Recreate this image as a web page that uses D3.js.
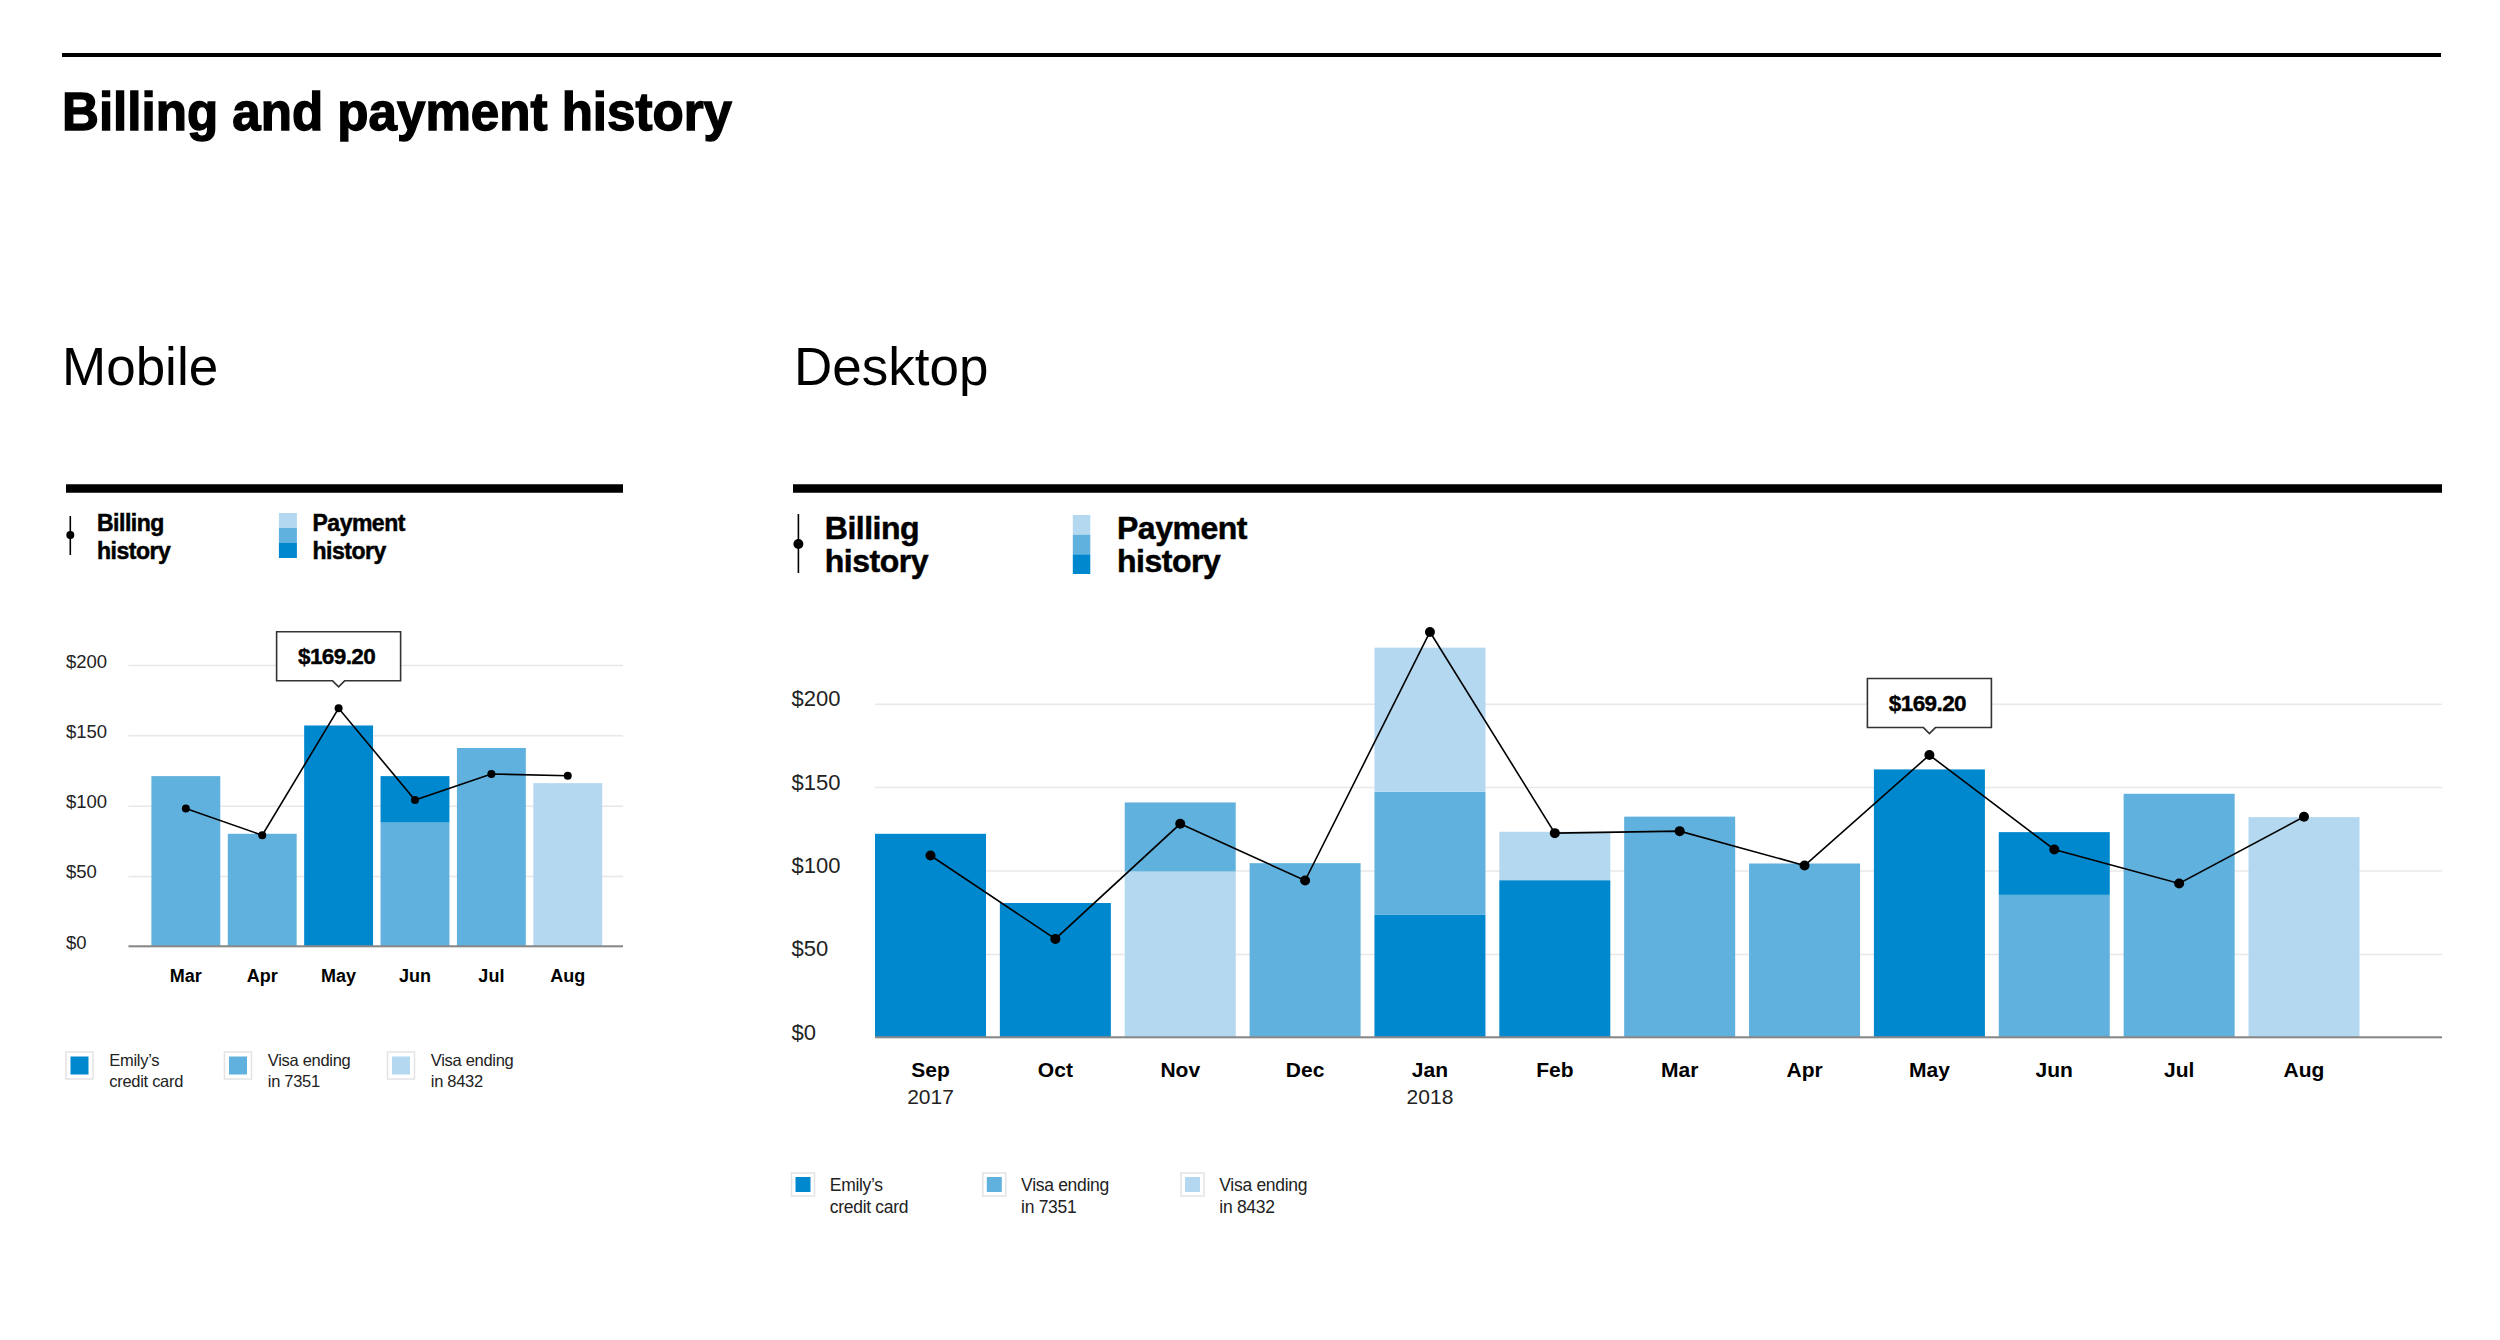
<!DOCTYPE html>
<html>
<head>
<meta charset="utf-8">
<script src="https://cdn.jsdelivr.net/npm/d3@7"></script>
<style>
  body { margin: 0; background: #fff; }
  svg { display: block; font-family: "Liberation Sans", Arial, Helvetica, sans-serif; }
</style>
</head>
<body>
<div id="chart"></div>
<script>
// ---- data ----
var cards = ["emily", "v7351", "v8432"];
var cardColors = ["#0088ce", "#61b1de", "#b4d8ef"];
var cardLabels = [["Emily\u2019s", "credit card"], ["Visa ending", "in 7351"], ["Visa ending", "in 8432"]];

var mobileMonths = ["Mar", "Apr", "May", "Jun", "Jul", "Aug"];
var mobileBilling = [98, 79, 169.2, 104, 122.5, 121.3];
// payments in the order they stack, bottom to top
var mobilePayments = [
    ["Mar", "v7351", 121], ["Apr", "v7351", 80], ["May", "emily", 157],
    ["Jun", "v7351", 88], ["Jun", "emily", 33], ["Jul", "v7351", 141], ["Aug", "v8432", 116]
];

var desktopMonths = ["Sep", "Oct", "Nov", "Dec", "Jan", "Feb", "Mar", "Apr", "May", "Jun", "Jul", "Aug"];
var desktopYears = ["2017", "", "", "", "2018", "", "", "", "", "", "", ""];
var desktopBilling = [109, 59, 128, 94, 243, 122.4, 123.6, 103, 169.2, 112.6, 92.2, 132.2];
var desktopPayments = [
    ["Sep", "emily", 122], ["Oct", "emily", 80.5],
    ["Nov", "v8432", 99.4], ["Nov", "v7351", 41.4],
    ["Dec", "v7351", 104.4],
    ["Jan", "emily", 73.4], ["Jan", "v7351", 73.8], ["Jan", "v8432", 86.4],
    ["Feb", "emily", 94.2], ["Feb", "v8432", 29],
    ["Mar", "v7351", 132.3], ["Apr", "v7351", 104.2], ["May", "emily", 160.6],
    ["Jun", "v7351", 85.4], ["Jun", "emily", 37.6], ["Jul", "v7351", 146], ["Aug", "v8432", 132]
];

var yTicks = [0, 50, 100, 150, 200];
var highlightMonth = "May";

// ---- layout ----
var W = 2500, H = 1340;

var mobileLayout = {
    barLeft: 151.4, barRight: 602.2, pad: 0.098,
    gridLeft: 128.5, gridRight: 623, y0: 946.3, y200: 665,
    tickX: 66, tickSize: 18.5,
    monthY: 981.7, monthSize: 18, yearY: 0, yearSize: 0,
    dotR: 4, lineW: 1.6,
    rule: { x1: 66, x2: 623, y: 488.5, w: 8.7 },
    legend: { iconX: 70.3, iconTop: 516, iconBot: 555, dotY: 535, dotR: 4, textX: 97, line1: 531, line2: 559.3, size: 23,
              swX: 278.9, swW: 18, swTop: 513, swBot: 558, ptX: 312.5 },
    keys: { x: [66, 224.5, 387.5], box: 27, y: 1052, inner: 18, textDx: 43.3, line1: 1066, line2: 1086.7, size: 16.5 },
    tip: { w: 124, h: 49, size: 22.5, gap: 21.5, ptr: 6 }
};

var desktopLayout = {
    barLeft: 875, barRight: 2359.5, pad: 0.111,
    gridLeft: 875, gridRight: 2442, y0: 1037.3, y200: 703.7,
    tickX: 791.5, tickSize: 22,
    monthY: 1076.7, monthSize: 21, yearY: 1104, yearSize: 21,
    dotR: 5, lineW: 1.6,
    rule: { x1: 793, x2: 2442, y: 488.5, w: 8.7 },
    legend: { iconX: 798.4, iconTop: 514, iconBot: 573, dotY: 544, dotR: 5, textX: 824.8, line1: 539, line2: 571.7, size: 32,
              swX: 1072.8, swW: 17.5, swTop: 515, swBot: 574, ptX: 1117 },
    keys: { x: [791.5, 982.8, 1181], box: 23, y: 1173, inner: 15, textDx: 38.3, line1: 1190.7, line2: 1212.7, size: 17.5 },
    tip: { w: 124, h: 49, size: 22.5, gap: 21.5, ptr: 6 }
};

var svg = d3.select("#chart").append("svg")
    .attr("width", W)
    .attr("height", H);

svg.append("rect").attr("width", W).attr("height", H).attr("fill", "#fff");

// page header
svg.append("line")
    .attr("x1", 62).attr("x2", 2441)
    .attr("y1", 55).attr("y2", 55)
    .attr("stroke", "#000").attr("stroke-width", 4);

svg.append("text")
    .attr("x", 62).attr("y", 130)
    .attr("font-size", 53).attr("font-weight", 700)
    .attr("stroke", "#000").attr("stroke-width", 1.4)
    .attr("textLength", 670).attr("lengthAdjust", "spacingAndGlyphs")
    .text("Billing and payment history");

svg.append("text").attr("x", 62).attr("y", 385).attr("font-size", 53).text("Mobile");
svg.append("text").attr("x", 794).attr("y", 385).attr("font-size", 53).text("Desktop");

function colorOf(card) { return cardColors[cards.indexOf(card)]; }

function drawChart(L, months, billing, payments, years) {
    var g = svg.append("g");

    var x = d3.scaleBand()
        .domain(months)
        .range([L.barLeft, L.barRight])
        .paddingInner(L.pad)
        .paddingOuter(0);

    var y = d3.scaleLinear()
        .domain([0, 200])
        .range([L.y0, L.y200]);

    // thick rule above the legend
    g.append("line")
        .attr("x1", L.rule.x1).attr("x2", L.rule.x2)
        .attr("y1", L.rule.y).attr("y2", L.rule.y)
        .attr("stroke", "#000").attr("stroke-width", L.rule.w);

    // top legend: billing line + payment stack
    var lg = L.legend;
    g.append("line")
        .attr("x1", lg.iconX).attr("x2", lg.iconX)
        .attr("y1", lg.iconTop).attr("y2", lg.iconBot)
        .attr("stroke", "#000").attr("stroke-width", 1.6);
    g.append("circle").attr("cx", lg.iconX).attr("cy", lg.dotY).attr("r", lg.dotR).attr("fill", "#000");

    [["Billing", "history", lg.textX], ["Payment", "history", lg.ptX]].forEach(function(t) {
        [t[0], t[1]].forEach(function(s, j) {
            g.append("text").attr("x", t[2]).attr("y", j ? lg.line2 : lg.line1)
                .attr("font-size", lg.size).attr("font-weight", 700)
                .attr("stroke", "#000").attr("stroke-width", 0.5)
                .attr("letter-spacing", -0.5).text(s);
        });
    });

    var segH = (lg.swBot - lg.swTop) / 3;
    [2, 1, 0].forEach(function(ci, i) {
        g.append("rect")
            .attr("x", lg.swX).attr("y", lg.swTop + i * segH)
            .attr("width", lg.swW).attr("height", segH)
            .attr("fill", cardColors[ci]);
    });

    // gridlines + y tick labels
    var yAxis = d3.axisLeft(y)
        .tickValues(yTicks)
        .tickSize(-(L.gridRight - L.gridLeft))
        .tickFormat(function(d) { return "$" + d; });

    var ya = g.append("g")
        .attr("transform", "translate(" + L.gridLeft + ",0)")
        .call(yAxis);
    ya.select(".domain").remove();
    ya.selectAll(".tick line")
        .attr("stroke", "#e8e8e8")
        .attr("stroke-width", 1.5);
    ya.selectAll(".tick text")
        .attr("x", L.tickX - L.gridLeft)
        .attr("dy", 2)
        .attr("text-anchor", "start")
        .attr("fill", "#222")
        .attr("font-family", null)
        .attr("font-size", L.tickSize);

    // stacked payment bars
    var stacked = [];
    var tops = {};
    payments.forEach(function(p) {
        var base = tops[p[0]] || 0;
        stacked.push({ month: p[0], card: p[1], y0: base, y1: base + p[2] });
        tops[p[0]] = base + p[2];
    });

    g.append("g").selectAll("rect")
        .data(stacked)
        .enter().append("rect")
            .attr("x", function(d) { return x(d.month); })
            .attr("width", x.bandwidth())
            .attr("y", function(d) { return y(d.y1); })
            .attr("height", function(d) { return y(d.y0) - y(d.y1); })
            .attr("fill", function(d) { return colorOf(d.card); });

    // baseline
    g.append("line")
        .attr("x1", L.gridLeft).attr("x2", L.gridRight)
        .attr("y1", y(0)).attr("y2", y(0))
        .attr("stroke", "#888").attr("stroke-width", 2);

    // month labels
    var xAxis = d3.axisBottom(x).tickSize(0).tickPadding(0);
    var xa = g.append("g")
        .attr("transform", "translate(0," + L.monthY + ")")
        .call(xAxis);
    xa.select(".domain").remove();
    xa.selectAll(".tick text")
        .attr("y", 0).attr("dy", 0)
        .attr("font-family", null)
        .attr("font-size", L.monthSize)
        .attr("font-weight", 700)
        .attr("fill", "#000");

    if (years) {
        g.append("g").selectAll("text")
            .data(months)
            .enter().append("text")
                .attr("x", function(d) { return x(d) + x.bandwidth() / 2; })
                .attr("y", L.yearY)
                .attr("text-anchor", "middle")
                .attr("font-size", L.yearSize)
                .attr("fill", "#222")
                .text(function(d, i) { return years[i]; });
    }

    // billing line
    var cx = function(i) { return x(months[i]) + x.bandwidth() / 2; };
    var line = d3.line()
        .x(function(d, i) { return cx(i); })
        .y(function(d) { return y(d); });

    g.append("path")
        .datum(billing)
        .attr("d", line)
        .attr("fill", "none")
        .attr("stroke", "#000")
        .attr("stroke-width", L.lineW);

    g.append("g").selectAll("circle")
        .data(billing)
        .enter().append("circle")
            .attr("cx", function(d, i) { return cx(i); })
            .attr("cy", function(d) { return y(d); })
            .attr("r", L.dotR)
            .attr("fill", "#000");

    // callout on the highlighted month
    var hi = months.indexOf(highlightMonth);
    var t = L.tip;
    var px = cx(hi), tipY = y(billing[hi]) - t.gap, bot = tipY - t.ptr, top = bot - t.h;
    var left = px - t.w / 2, right = px + t.w / 2;
    g.append("path")
        .attr("d", "M" + left + "," + top + "H" + right + "V" + bot + "H" + (px + t.ptr) +
                   "L" + px + "," + tipY + "L" + (px - t.ptr) + "," + bot + "H" + left + "Z")
        .attr("fill", "#fff")
        .attr("stroke", "#333")
        .attr("stroke-width", 1.6);
    g.append("text")
        .attr("x", px - 2).attr("y", top + 32)
        .attr("text-anchor", "middle")
        .attr("font-size", t.size)
        .attr("font-weight", 700)
        .attr("stroke", "#000").attr("stroke-width", 0.4)
        .attr("letter-spacing", -0.6)
        .text("$" + d3.format(".2f")(billing[hi]));

    // card key at the bottom
    var k = L.keys;
    cards.forEach(function(c, i) {
        var kx = k.x[i];
        g.append("rect")
            .attr("x", kx).attr("y", k.y)
            .attr("width", k.box).attr("height", k.box)
            .attr("fill", "#fff").attr("stroke", "#e4e4e4").attr("stroke-width", 1.5);
        g.append("rect")
            .attr("x", kx + (k.box - k.inner) / 2).attr("y", k.y + (k.box - k.inner) / 2)
            .attr("width", k.inner).attr("height", k.inner)
            .attr("fill", cardColors[i]);
        g.append("text").attr("x", kx + k.textDx).attr("y", k.line1)
            .attr("font-size", k.size).attr("fill", "#222").attr("letter-spacing", -0.3).text(cardLabels[i][0]);
        g.append("text").attr("x", kx + k.textDx).attr("y", k.line2)
            .attr("font-size", k.size).attr("fill", "#222").attr("letter-spacing", -0.3).text(cardLabels[i][1]);
    });
}

drawChart(mobileLayout, mobileMonths, mobileBilling, mobilePayments, null);
drawChart(desktopLayout, desktopMonths, desktopBilling, desktopPayments, desktopYears);
</script>
</body>
</html>
